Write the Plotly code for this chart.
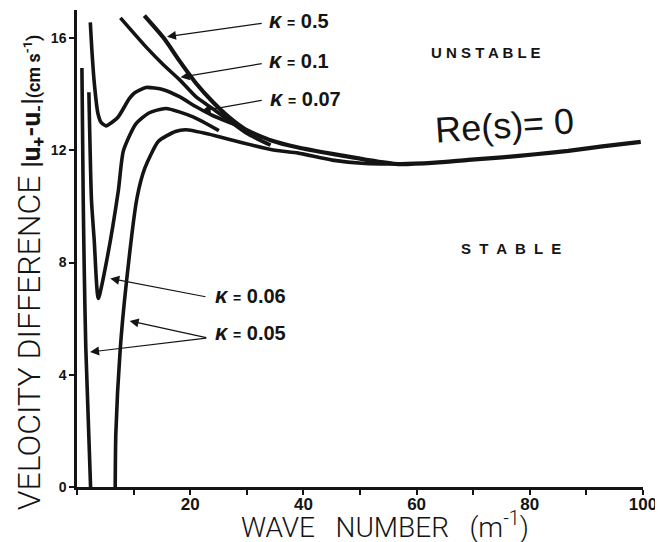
import plotly.graph_objects as go

# ---- data (wave number in m^-1, velocity difference in cm/s) ----
# kappa = 0.5 (continues as the common Re(s)=0 envelope)
k05_x = [11.9, 15.33, 18.2, 21.1, 24.0, 26.9, 29.8, 34.2, 39.1, 45.1, 50.9, 56.7,
         63.3, 69.1, 75.1, 81.0, 86.8, 92.8, 99.6]
k05_y = [16.8, 16.0, 15.16, 14.37, 13.72, 13.17, 12.74, 12.36, 12.10, 11.87, 11.67, 11.51,
         11.56, 11.66, 11.75, 11.86, 11.98, 12.14, 12.30]

# kappa = 0.1
k01_x = [7.67, 12.35, 15.26, 18.15, 21.05, 24.0, 29.8, 34.2]
k01_y = [16.72, 15.65, 15.05, 14.51, 13.9, 13.48, 12.63, 12.18]

# kappa = 0.07
k007_x = [2.35, 2.63, 3.06, 3.69, 4.24, 5.12, 7.2, 9.2, 10.2, 12.2, 15.27, 18.1, 21.05, 23.96, 27.7]
k007_y = [16.56, 15.56, 14.39, 13.32, 13.0, 12.87, 13.17, 13.83, 14.05, 14.24, 14.16, 13.91, 13.55, 13.24, 12.93]

# kappa = 0.06
k006_x = [2.1, 2.56, 3.04, 3.76, 5.35, 7.3, 8.2, 10.4, 12.7, 15.7, 20.5, 25.07]
k006_y = [14.07, 10.22, 8.8, 6.72, 8.18, 10.56, 11.98, 12.94, 13.33, 13.49, 13.19, 12.70]

# kappa = 0.05, left branch and right branch
k005_left_x = [0.87, 1.1, 1.27, 1.55, 2.4]
k005_left_y = [14.93, 10.22, 7.85, 5.0, 0.0]
k005_right_x = [6.75, 6.86, 7.62, 8.7, 10.6, 12.0, 14.4, 17.4, 19.2, 23.2, 29.2, 35.0, 39.1,
                45.1, 50.9, 56.7]
k005_right_y = [0.0, 1.9, 4.86, 7.24, 10.3, 11.37, 12.32, 12.67, 12.73, 12.58, 12.27, 12.0, 11.9,
                11.65, 11.53, 11.51]

# axis ticks
x_tick_vals = [20, 40, 60, 80, 100]
x_tick_text = ["20", "40", "60", "80", "100"]
y_tick_vals = [0, 4, 8, 12, 16]
y_tick_text = ["0", "4", "8", "12", "16"]

# curve labels: text, label anchor (x, y), arrow tail (x, y), arrow tips [(x, y), ...]
kappa_labels = ["0.5", "0.1", "0.07", "0.06", "0.05"]
label_x = [33.6, 33.6, 33.7, 24.0, 24.0]
label_y = [16.64, 15.21, 13.86, 6.84, 5.52]
tail_x = [32.9, 32.9, 32.9, 22.97, 23.1]
tail_y = [16.53, 15.1, 13.79, 6.77, 5.31]
tips = [[(15.9, 16.05)], [(18.3, 14.6)], [(22.0, 13.40)], [(5.88, 7.43)],
        [(9.3, 5.92), (2.31, 4.81)]]

INK = "#141414"
LINE_W = 3.6
# the page body adds an 8 px margin, so the figure is drawn 8 px smaller and the
# plot margins are reduced by the same amount to keep the plot area in place
PAGE_PAD = 8

fig = go.Figure()


def add_curve(x, y, w=LINE_W):
    fig.add_trace(go.Scatter(
        x=x, y=y, mode="lines",
        line=dict(color=INK, width=w, shape="spline", smoothing=0.6),
        showlegend=False, hoverinfo="skip"))


add_curve(k005_left_x, k005_left_y)
add_curve(k005_right_x, k005_right_y)
add_curve(k006_x, k006_y)
add_curve(k007_x, k007_y)
add_curve(k01_x, k01_y)
add_curve(k05_x, k05_y, 4.2)

annotations = []
lab_font = dict(family="Liberation Sans, Arial, sans-serif", color=INK, size=20, weight="bold")
for i, lab in enumerate(kappa_labels):
    annotations.append(dict(
        x=label_x[i], y=label_y[i], xref="x", yref="y", xanchor="left", yanchor="middle",
        showarrow=False, font=lab_font,
        text=("<span style='font-size:22px'><i>κ</i></span> "
              "<span style='font-size:14px'>=</span> " + lab)))
    for (tx, ty) in tips[i]:
        annotations.append(dict(
            x=tx, y=ty, xref="x", yref="y", ax=tail_x[i], ay=tail_y[i], axref="x", ayref="y",
            text="", showarrow=True, arrowhead=2, arrowsize=1.5, arrowwidth=1.2,
            arrowcolor=INK, standoff=0, startstandoff=0))

annotations += [
    dict(x=72.1, y=15.5, xref="x", yref="y", showarrow=False,
         text="U N S T A B L E",
         font=dict(family="Liberation Sans, Arial, sans-serif", size=15, color=INK, weight="bold")),
    dict(x=76.7, y=8.51, xref="x", yref="y", showarrow=False,
         text="S  T  A  B  L  E",
         font=dict(family="Liberation Sans, Arial, sans-serif", size=15, color=INK, weight="bold")),
    dict(x=75.6, y=12.9, xref="x", yref="y", showarrow=False, textangle=-4,
         text="Re(s)= 0",
         font=dict(family="Liberation Sans, Arial, sans-serif", size=36, color=INK)),
    # axis titles
    dict(x=0.544, y=-0.081, xref="paper", yref="paper", showarrow=False,
         xanchor="center", yanchor="middle",
         text="WAVE\u00a0\u00a0\u00a0NUMBER\u00a0\u00a0\u00a0(m<sup>-1</sup>)",
         font=dict(family="Roboto, sans-serif", size=28, color=INK, weight=300)),
    dict(x=-0.085, y=0.45, xref="paper", yref="paper", showarrow=False, textangle=-90,
         xanchor="center", yanchor="middle",
         text=("VELOCITY DIFFERENCE "
               "<b><span style='font-size:26px'>|u<sub>+</sub>-u<sub>-</sub>|</span></b>"
               "<b><span style='font-size:18px'>(cm s<sup>-1</sup>)</span></b>"),
         font=dict(family="Roboto, sans-serif", size=32, color=INK, weight=300)),
]

fig.update_layout(
    width=663 - PAGE_PAD, height=542 - PAGE_PAD,
    margin=dict(l=77 - PAGE_PAD, r=20, t=10 - PAGE_PAD, b=55, autoexpand=False),
    paper_bgcolor="white", plot_bgcolor="white",
    annotations=annotations,
    xaxis=dict(range=[0, 100], showgrid=False, zeroline=False,
               showline=True, linecolor=INK, linewidth=3,
               tickmode="array", tickvals=x_tick_vals, ticktext=x_tick_text,
               ticks="outside", ticklen=0, tickcolor=INK,
               ticklabelstandoff=0,
               minor=dict(dtick=10, ticks="outside", ticklen=5, tickwidth=2, tickcolor=INK),
               tickfont=dict(family="Liberation Sans, Arial, sans-serif", size=17, color=INK,
                             weight="bold"),
               fixedrange=True),
    yaxis=dict(range=[0, 17], showgrid=False, zeroline=False,
               showline=True, linecolor=INK, linewidth=2.5,
               tickmode="array", tickvals=y_tick_vals, ticktext=y_tick_text,
               ticks="outside", ticklen=5, tickwidth=2, tickcolor=INK,
               tickfont=dict(family="Liberation Sans, Arial, sans-serif", size=14, color=INK,
                             weight="bold"),
               fixedrange=True),
)

fig.write_html("out.html")
